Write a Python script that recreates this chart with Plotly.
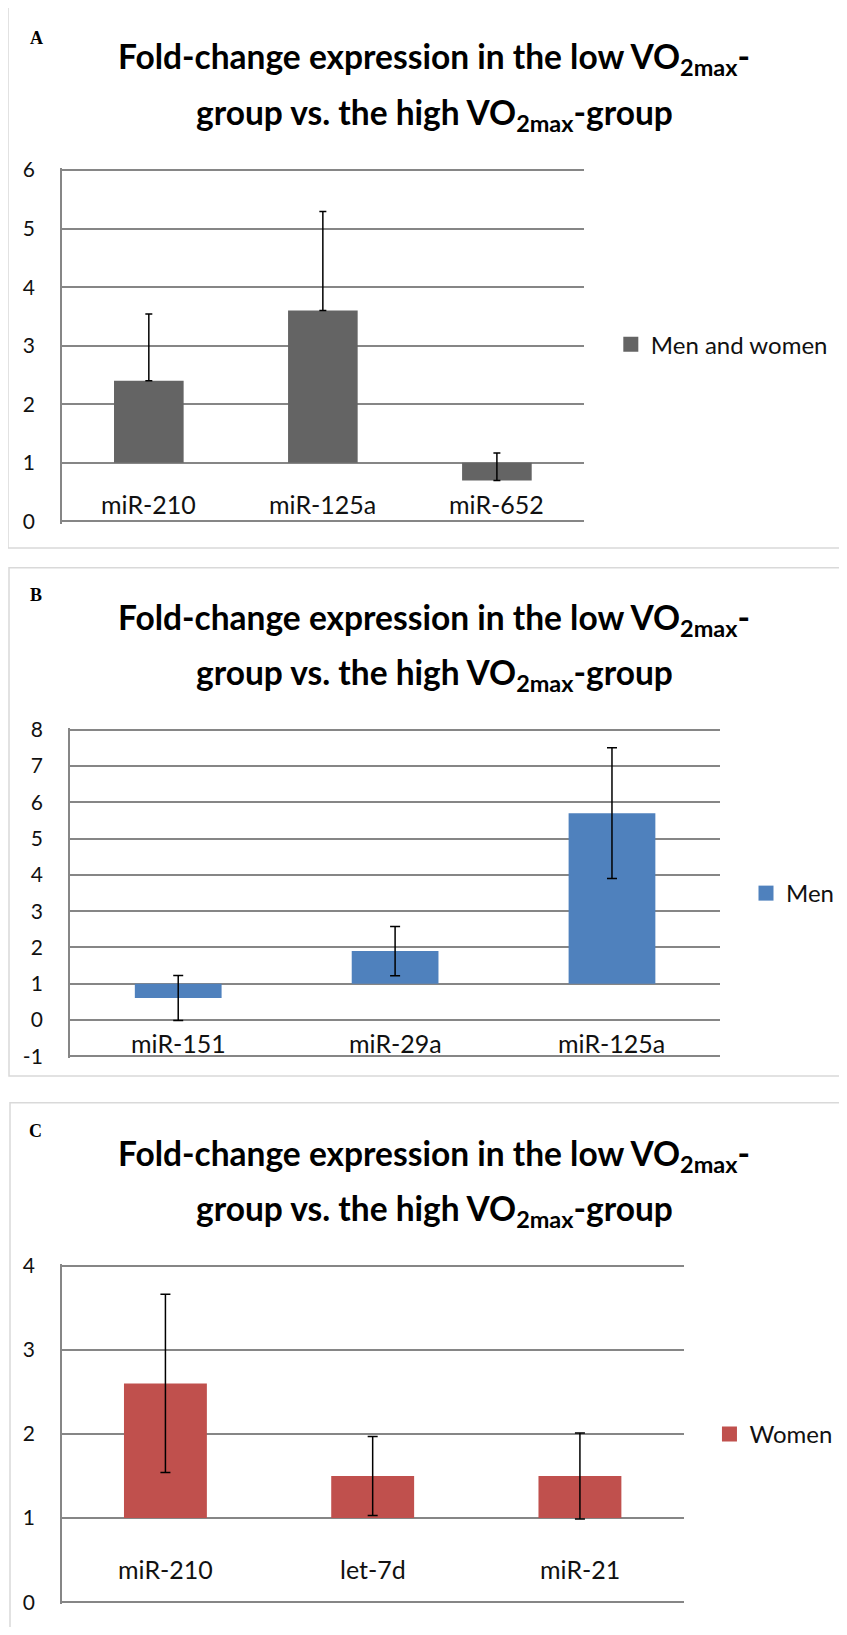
import plotly.graph_objects as go

# page is 847x1635; the browser's default 8px body margin surrounds the figure
PAGE_W, PAGE_H = 847, 1635
M = 8
W, H = PAGE_W - 2 * M, PAGE_H - 2 * M

# ---------------- data ----------------
cats_a = ["miR-210", "miR-125a", "miR-652"]
vals_a = [2.4, 3.6, 0.7]
err_a = [1.14, 1.69, 0.47]

cats_b = ["miR-151", "miR-29a", "miR-125a"]
vals_b = [0.61, 1.9, 5.7]
err_b = [0.62, 0.68, 1.8]

cats_c = ["miR-210", "let-7d", "miR-21"]
vals_c = [2.6, 1.5, 1.5]
err_c = [1.06, 0.47, 0.51]

ticks_a = [0, 1, 2, 3, 4, 5, 6]
ticks_b = [-1, 0, 1, 2, 3, 4, 5, 6, 7, 8]
ticks_c = [0, 1, 2, 3, 4]

series_names = ["Men and women", "Men", "Women"]
panel_letters = ["A", "B", "C"]
title_line1 = "Fold-change expression in the low VO<sub>2max</sub>-"
title_line2 = "group vs. the high VO<sub>2max</sub>-group"

# ---------------- style / layout constants (page pixel coordinates) ----------------
colors = ["#646464", "#4F81BD", "#C0504D"]
GRID = "#868686"
BORDER = "#D9D9D9"
FONT = "Lato"
TXT = "#111111"

boxes = [(62, 586, 160, 516), (70, 723, 727, 1058), (62, 686, 1270, 1611)]
label_y = [0.3, -0.63, 0.39]
cap_w = [3.5, 5, 5]
panel_borders = [(8, -20, 880, 543), (9, 563, 880, 1078), (10, 1105, 880, 1680)]
legend_pos = [(613, 337), (749, 893), (712, 1441)]
TITLE_SIZE = 33.5
title_base = [(57, 113), (625, 681), (1168, 1224)]
letter_pos = [(37, 26), (36, 591), (36, 1134)]

def px_x(x):
    return (x - M) / W

def px_y(y):
    return 1 - (y - M) / H

fig = go.Figure()

data = [(cats_a, vals_a, err_a, ticks_a, True),
        (cats_b, vals_b, err_b, ticks_b, False),
        (cats_c, vals_c, err_c, ticks_c, False)]

annotations = []
shapes = []
layout_axes = {}

for i, (cats, vals, errs, ticks, plus_only) in enumerate(data):
    sfx = "" if i == 0 else str(i + 1)
    xa, ya = "x" + sfx, "y" + sfx
    lg = "legend" + sfx
    err = dict(type="data", array=errs, color="black", thickness=1.5, width=cap_w[i])
    if plus_only:
        err.update(symmetric=False, arrayminus=[0] * len(errs))
    else:
        err.update(symmetric=True)
    fig.add_trace(go.Bar(
        x=cats, y=[v - 1 for v in vals], base=1, width=0.4,
        marker=dict(color=colors[i], line=dict(width=0)),
        error_y=err, name=series_names[i], xaxis=xa, yaxis=ya,
        showlegend=False,
    ))
    # legend entry with a square swatch like the original
    fig.add_trace(go.Scatter(
        x=[None], y=[None], mode="markers", name=series_names[i],
        marker=dict(symbol="square", size=15, color=colors[i]),
        xaxis=xa, yaxis=ya, legend=lg, showlegend=True, hoverinfo="skip",
    ))
    l, r, t, b = boxes[i]
    lo, hi = ticks[0], ticks[-1]
    span = hi - lo
    eps = 0.006 * span
    pad = (b - t) * eps / span
    layout_axes["xaxis" + sfx] = dict(
        domain=[px_x(l), px_x(r)], anchor=ya, range=[-0.5, 2.5],
        showticklabels=False, showgrid=False, zeroline=False, showline=False,
        fixedrange=True,
    )
    layout_axes["yaxis" + sfx] = dict(
        domain=[px_y(b + pad), px_y(t - pad)], anchor=xa, range=[lo - eps, hi + eps],
        tickmode="array", tickvals=ticks, ticktext=[str(v) for v in ticks],
        showgrid=True, gridcolor=GRID, gridwidth=1.5, zeroline=False,
        showline=True, linecolor=GRID, linewidth=1.5, ticks="",
        ticklabelstandoff=21,
        tickfont=dict(family=FONT, size=21, color=TXT),
    )
    for c in cats:
        annotations.append(dict(
            x=c, y=label_y[i], xref=xa, yref=ya, text=c, showarrow=False,
            font=dict(family=FONT, size=25, color=TXT),
            xanchor="center", yanchor="middle",
        ))
    lx, ly = legend_pos[i]
    layout_axes[lg] = dict(
        x=px_x(lx), y=px_y(ly), xanchor="left", yanchor="middle",
        font=dict(family=FONT, size=24, color=TXT),
        bgcolor="rgba(0,0,0,0)", itemwidth=30,
    )
    for txt, tb in zip((title_line1, title_line2), title_base[i]):
        annotations.append(dict(
            x=px_x(436), y=px_y(tb - 0.29 * TITLE_SIZE), xref="paper", yref="paper",
            text="<b>" + txt + "</b>",
            showarrow=False, xanchor="center", yanchor="middle",
            font=dict(family=FONT, size=TITLE_SIZE, color="black"),
        ))
    lxp, lyp = letter_pos[i]
    annotations.append(dict(
        x=px_x(lxp), y=px_y(lyp), xref="paper", yref="paper",
        text="<b>" + panel_letters[i] + "</b>", showarrow=False,
        xanchor="center", yanchor="middle",
        font=dict(family="Liberation Serif", size=18, color="black"),
    ))
    bx0, by0, bx1, by1 = panel_borders[i]
    shapes.append(dict(
        type="rect", xref="paper", yref="paper",
        x0=px_x(bx0), x1=px_x(bx1), y0=px_y(by1), y1=px_y(by0),
        line=dict(color=BORDER, width=1.5), fillcolor="rgba(0,0,0,0)", layer="below",
    ))

fig.update_layout(
    width=W, height=H, margin=dict(l=0, r=0, t=0, b=0),
    paper_bgcolor="white", plot_bgcolor="white",
    annotations=annotations, shapes=shapes,
    **layout_axes,
)

fig.write_html("out.html")
